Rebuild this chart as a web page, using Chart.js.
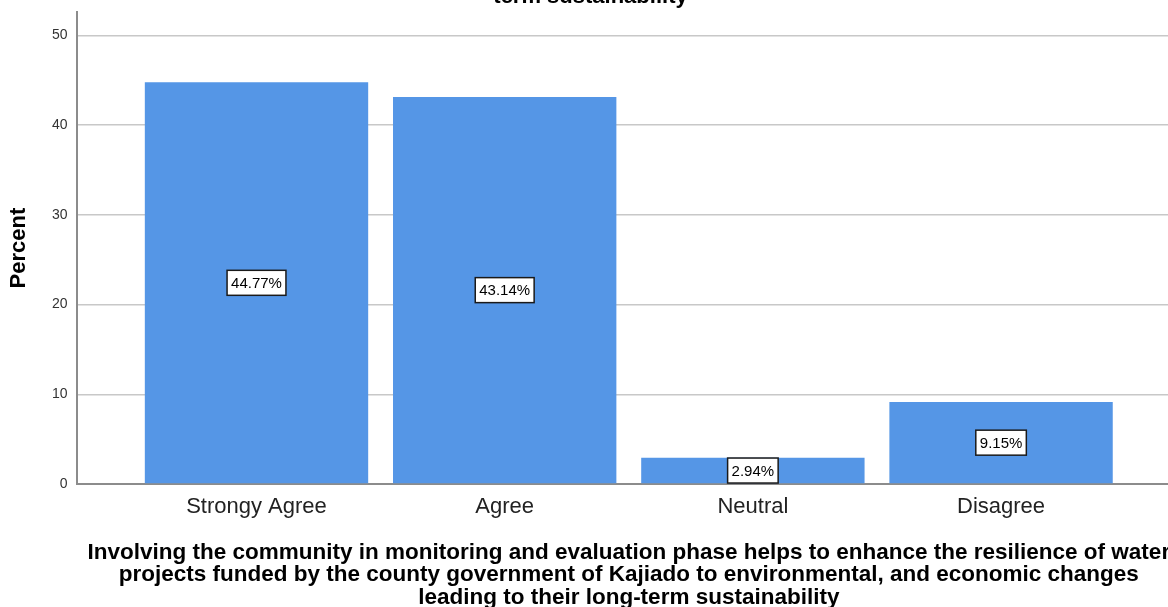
<!DOCTYPE html>
<html>
<head>
<meta charset="utf-8">
<script src="https://cdn.jsdelivr.net/npm/chart.js@4.4.1/dist/chart.umd.min.js"></script>
<style>
  html, body { margin: 0; padding: 0; width: 1168px; height: 607px; overflow: hidden; background: #fff; }
  #wrap { position: absolute; left: 0; top: -62px; width: 1181px; height: 671px; }
</style>
</head>
<body>
<div id="wrap"><canvas id="chart" width="1181" height="671"></canvas></div>
<script>
// Response categories and the share of respondents (percent) in each
const categories = ['Strongy Agree', 'Agree', 'Neutral', 'Disagree'];
const percents = [44.77, 43.14, 2.94, 9.15];
const yTicks = [0, 10, 20, 30, 40, 50];

const chartTitle = [
  'Involving the community in monitoring and evaluation phase helps to enhance the resilience of water projects funded by the',
  'county government of Kajiado to environmental, and economic changes leading to their long-',
  'term sustainability'
];
const xTitle = [
  'Involving the community in monitoring and evaluation phase helps to enhance the resilience of water',
  'projects funded by the county government of Kajiado to environmental, and economic changes',
  'leading to their long-term sustainability'
];

const FONT = "'Liberation Sans', Arial, sans-serif";

// Boxed percentage label in the middle of each bar
const barLabels = {
  id: 'barLabels',
  afterDatasetsDraw(chart) {
    const ctx = chart.ctx;
    const meta = chart.getDatasetMeta(0);
    ctx.save();
    ctx.font = '15px ' + FONT;
    ctx.textAlign = 'center';
    ctx.textBaseline = 'middle';
    meta.data.forEach((bar, i) => {
      const text = percents[i].toFixed(2) + '%';
      const cx = bar.x;
      const cy = (bar.y + bar.base) / 2;
      const w = ctx.measureText(text).width + 8;
      const h = 25;
      ctx.fillStyle = '#ffffff';
      ctx.fillRect(cx - w / 2, cy - h / 2, w, h);
      ctx.lineWidth = 1.5;
      ctx.strokeStyle = '#1a1a1a';
      ctx.strokeRect(cx - w / 2, cy - h / 2, w, h);
      ctx.fillStyle = '#000';
      ctx.fillText(text, cx, cy + 1);
    });
    ctx.restore();
  }
};

new Chart(document.getElementById('chart'), {
  type: 'bar',
  data: {
    datasets: [{
      data: categories.map((c, i) => ({ x: i, y: percents[i] })),
      backgroundColor: 'rgb(85,150,230)',
      borderWidth: 0,
      categoryPercentage: 0.9,
      barPercentage: 1.0
    }]
  },
  options: {
    responsive: false,
    animation: false,
    devicePixelRatio: 1,
    layout: { padding: 0 },
    plugins: {
      legend: { display: false },
      tooltip: { enabled: false },
      title: {
        display: true,
        text: chartTitle,
        color: '#000',
        font: { family: FONT, size: 22, weight: 'bold', lineHeight: 1.0 },
        padding: { top: 4, bottom: 4 }
      }
    },
    scales: {
      x: {
        type: 'linear',
        offset: false,
        min: -0.725,
        max: 3.725,
        afterBuildTicks: s => { s.ticks = categories.map((c, i) => ({ value: i })); },
        ticks: {
          callback: v => categories[v] ?? '',
          autoSkip: false,
          maxRotation: 0,
          color: '#222',
          padding: 10,
          font: { family: FONT, size: 22 }
        },
        grid: { display: false, drawTicks: false },
        border: { display: true, color: '#8c8c8c', width: 2 },
        title: {
          display: true,
          text: xTitle,
          color: '#000',
          font: { family: FONT, size: 22.5, weight: 'bold', lineHeight: 1.0 },
          padding: { top: 11, bottom: 0 }
        }
      },
      y: {
        type: 'linear',
        min: 0,
        max: 52.6,
        afterBuildTicks: s => { s.ticks = yTicks.map(v => ({ value: v })); },
        ticks: {
          color: '#333',
          padding: 9,
          font: { family: FONT, size: 14 }
        },
        grid: { color: '#c8c8c8', lineWidth: 1.5, drawTicks: false },
        border: { display: true, color: '#8c8c8c', width: 2 },
        title: {
          display: true,
          text: 'Percent',
          color: '#000',
          font: { family: FONT, size: 22, weight: 'bold', lineHeight: 1.0 },
          padding: { top: 8, bottom: 13 }
        }
      }
    }
  },
  plugins: [barLabels]
});
</script>
</body>
</html>
